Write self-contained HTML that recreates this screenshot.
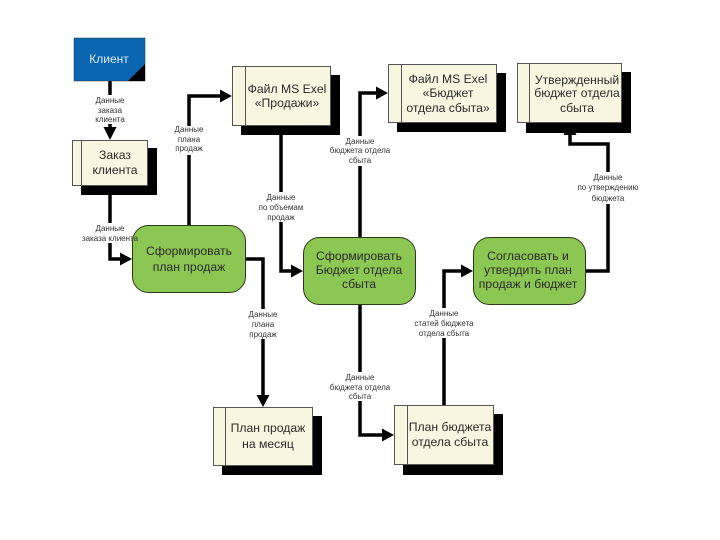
<!DOCTYPE html>
<html><head><meta charset="utf-8"><style>
html,body{margin:0;padding:0;background:#fff}
svg{display:block}
text{font-family:"Liberation Sans",sans-serif;text-anchor:middle}
.b{font-size:12.2px;fill:#2a2a2a}
.l{font-size:8px;fill:#333}
.c{fill:none;stroke:#000;stroke-width:3.5}
.h{fill:#000}
.s{fill:#000}
.f{fill:#f8f6e0;stroke:#555;stroke-width:1}
.g{fill:#8cc653;stroke:#2a3a18;stroke-width:1}
.w{fill:#fff}
</style></head><body>
<svg width="720" height="540" viewBox="0 0 720 540" xmlns="http://www.w3.org/2000/svg">
<!-- connectors -->
<path class="c" d="M110 81V130"/><path class="h" d="M103.500 127H116.500L110 140Z"/>
<path class="c" d="M110 185V259H122"/><path class="h" d="M120 252.500V265.500L132 259Z"/>
<path class="c" d="M189 225V96H222"/><path class="h" d="M220 89.500V102.500L232 96Z"/>
<path class="c" d="M281 126V271H293"/><path class="h" d="M291 264.500V277.500L303 271Z"/>
<path class="c" d="M360 237V93H378"/><path class="h" d="M376 86.500V99.500L388 93Z"/>
<path class="c" d="M586 271H608V144H570V133"/><path class="h" d="M563.500 135H576.500L570 123Z"/>
<path class="c" d="M246 259H263V397"/><path class="h" d="M256.500 395H269.500L263 407Z"/>
<path class="c" d="M360 305V435H384"/><path class="h" d="M382 428.500V441.500L394 435Z"/>
<path class="c" d="M444 405V271H463"/><path class="h" d="M461 264.500V277.500L473 271Z"/>
<!-- label backgrounds -->
<rect class="w" x="92" y="95" width="36" height="29"/>
<rect class="w" x="80" y="223" width="60" height="20"/>
<rect class="w" x="172" y="126" width="34" height="29"/>
<rect class="w" x="258" y="192" width="46" height="30"/>
<rect class="w" x="328" y="136" width="64" height="30"/>
<rect class="w" x="574" y="172" width="66" height="32"/>
<rect class="w" x="247" y="309" width="32" height="30"/>
<rect class="w" x="328" y="372" width="64" height="29"/>
<rect class="w" x="412" y="308" width="64" height="30"/>
<!-- client -->
<rect x="74" y="38" width="71" height="43" fill="#0a66b0" stroke="#333" stroke-width="0.5"/>
<path class="s" d="M145 64V81H128Z"/>
<text x="109" y="63" style="font-size:12px;fill:#dfeaf5;text-anchor:middle">Клиент</text>
<!-- doc boxes -->
<rect class="s" x="81" y="148" width="76" height="47"/>
<rect class="f" x="72.500" y="140.500" width="75" height="45"/><path d="M81.500 140V185" stroke="#555"/>
<rect class="s" x="241" y="75" width="99" height="60"/>
<rect class="f" x="232.500" y="66.500" width="98" height="59"/><path d="M245.500 66V126" stroke="#555"/>
<rect class="s" x="397" y="73" width="109" height="59"/>
<rect class="f" x="388.500" y="64.500" width="108" height="58"/><path d="M401.500 64V123" stroke="#555"/>
<rect class="s" x="526" y="72" width="105" height="61"/>
<rect class="f" x="517.500" y="63.500" width="104" height="59"/><path d="M529.500 63V123" stroke="#555"/>
<rect class="s" x="222" y="416" width="100" height="59"/>
<rect class="f" x="213.500" y="407.500" width="99" height="58"/><path d="M225.500 407V466" stroke="#555"/>
<rect class="s" x="403" y="414" width="100" height="61"/>
<rect class="f" x="394.500" y="405.500" width="99" height="59"/><path d="M407.500 405V465" stroke="#555"/>
<!-- green -->
<rect class="g" x="132.500" y="225.500" width="113" height="67" rx="16"/>
<rect class="g" x="303.500" y="237.500" width="112" height="67" rx="16"/>
<rect class="g" x="473.500" y="237.500" width="112" height="67" rx="16"/>
<!-- box text -->
<text class="b" x="115" y="159">Заказ</text><text class="b" x="115" y="174">клиента</text>
<text class="b" x="287" y="93">Файл MS Exel</text><text class="b" x="287" y="107">«Продажи»</text>
<text class="b" x="448" y="83">Файл MS Exel</text><text class="b" x="448" y="97">«Бюджет</text><text class="b" x="448" y="112">отдела сбыта»</text>
<text class="b" x="577" y="84">Утвержденный</text><text class="b" x="577" y="97">бюджет отдела</text><text class="b" x="577" y="112">сбыта</text>
<text class="b" x="189" y="255">Сформировать</text><text class="b" x="189" y="271">план продаж</text>
<text class="b" x="359" y="260">Сформировать</text><text class="b" x="359" y="274">Бюджет отдела</text><text class="b" x="359" y="288">сбыта</text>
<text class="b" x="528" y="260">Согласовать и</text><text class="b" x="528" y="274">утвердить план</text><text class="b" x="528" y="288">продаж и бюджет</text>
<text class="b" x="268" y="432">План продаж</text><text class="b" x="268" y="448">на месяц</text>
<text class="b" x="450" y="431">План бюджета</text><text class="b" x="450" y="446">отдела сбыта</text>
<!-- labels -->
<text class="l" x="110" y="103">Данные</text><text class="l" x="110" y="113">заказа</text><text class="l" x="110" y="122">клиента</text>
<text class="l" x="110" y="231">Данные</text><text class="l" x="110" y="241">заказа клиента</text>
<text class="l" x="189" y="132">Данные</text><text class="l" x="189" y="142">плана</text><text class="l" x="189" y="151">продаж</text>
<text class="l" x="281" y="200">Данные</text><text class="l" x="281" y="210">по объемам</text><text class="l" x="281" y="220">продаж</text>
<text class="l" x="360" y="144">Данные</text><text class="l" x="360" y="153">бюджета отдела</text><text class="l" x="360" y="163">сбыта</text>
<text class="l" x="608" y="180">Данные</text><text class="l" x="608" y="190">по утверждению</text><text class="l" x="608" y="201">бюджета</text>
<text class="l" x="263" y="317">Данные</text><text class="l" x="263" y="327">плана</text><text class="l" x="263" y="337">продаж</text>
<text class="l" x="360" y="380">Данные</text><text class="l" x="360" y="390">бюджета отдела</text><text class="l" x="360" y="399">сбыта</text>
<text class="l" x="444" y="316">Данные</text><text class="l" x="444" y="326">статей бюджета</text><text class="l" x="444" y="336">отдела сбыта</text>
</svg>
</body></html>
